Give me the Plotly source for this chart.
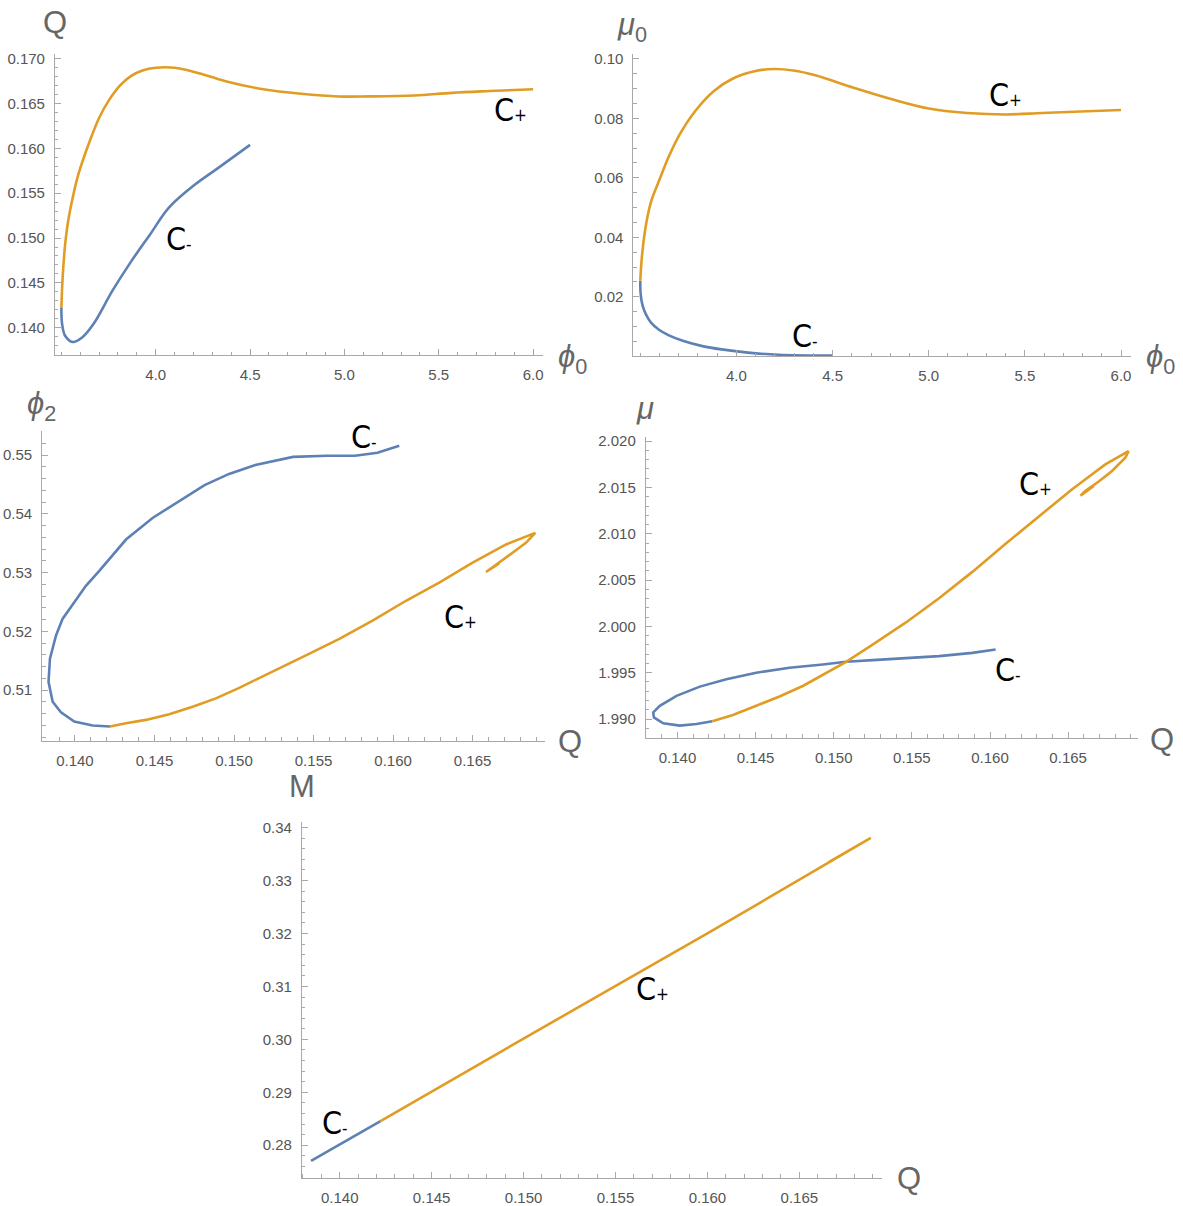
import plotly.graph_objects as go

BLUE = "#5E81B5"
ORANGE = "#E19C24"
AXC = "#a8a8a8"
TXC = "#555555"

# ---------------- Panel 1: Q vs phi0 ----------------
p1_plus_phi0 = [3.50, 3.504, 3.51, 3.52, 3.536, 3.56, 3.59, 3.65, 3.70, 3.75, 3.81, 3.87, 3.93, 4.00,
                4.10, 4.21, 4.37, 4.57, 4.77, 4.97, 5.13, 5.37, 5.57, 5.77, 6.00]
p1_plus_Q = [0.1422, 0.14446, 0.14669, 0.14929, 0.15190, 0.15450, 0.1571, 0.1608, 0.1634, 0.1653, 0.1670,
             0.1681, 0.1687, 0.1690, 0.1690, 0.1685, 0.1675, 0.1666, 0.1661, 0.1658, 0.1658, 0.1659,
             0.1662, 0.1664, 0.1666]
p1_minus_phi0 = [3.50, 3.504, 3.52, 3.56, 3.61, 3.67, 3.77, 3.87, 3.97, 4.07, 4.21, 4.33, 4.50]
p1_minus_Q = [0.1422, 0.1404, 0.1391, 0.1384, 0.1389, 0.1404, 0.1441, 0.1474, 0.1504, 0.1534, 0.1560,
              0.1578, 0.1604]

# ---------------- Panel 2: mu0 vs phi0 ----------------
p2_plus_phi0 = [3.50, 3.508, 3.53, 3.557, 3.597, 3.646, 3.705, 3.785, 3.883, 3.982, 4.10, 4.197, 4.296,
                4.41, 4.61, 4.81, 5.00, 5.20, 5.40, 5.59, 5.79, 6.00]
p2_plus_mu0 = [0.0254, 0.0332, 0.0444, 0.0522, 0.0589, 0.0668, 0.0746, 0.0824, 0.0892, 0.0934, 0.0959,
               0.0966, 0.0961, 0.0945, 0.0903, 0.0864, 0.0833, 0.0818, 0.0813, 0.0818, 0.0823, 0.0828]
p2_minus_phi0 = [3.50, 3.502, 3.512, 3.53, 3.557, 3.597, 3.646, 3.725, 3.823, 3.922, 4.06, 4.22, 4.50]
p2_minus_mu0 = [0.0254, 0.0209, 0.0170, 0.0140, 0.0112, 0.0089, 0.0071, 0.0051, 0.0034, 0.0023, 0.0012,
                0.0005, 0.0002]

# ---------------- Panel 3: phi2 vs Q ----------------
p3_plus_Q = [0.14220, 0.14321, 0.14446, 0.14593, 0.14740, 0.14886, 0.15033, 0.15243, 0.15452, 0.15662,
             0.15871, 0.16081, 0.16290, 0.16500, 0.16710, 0.16894, 0.16835, 0.16751, 0.16667, 0.16584,
             0.16626, 0.16667]
p3_plus_phi2 = [0.50380, 0.50437, 0.50493, 0.50589, 0.50718, 0.50859, 0.51039, 0.51310, 0.51592, 0.51873,
                0.52183, 0.52521, 0.52831, 0.53169, 0.53479, 0.53676, 0.53507, 0.53338, 0.53169, 0.53011,
                0.53085, 0.53158]
p3_minus_Q = [0.14220, 0.14111, 0.13996, 0.13912, 0.13860, 0.13834, 0.13843, 0.13881, 0.13922, 0.13996,
              0.14069, 0.14153, 0.14321, 0.14488, 0.14635, 0.14815, 0.14969, 0.15134, 0.15371, 0.15583,
              0.15760, 0.15902, 0.16039]
p3_minus_phi2 = [0.50380, 0.50397, 0.50465, 0.50623, 0.50803, 0.51141, 0.51535, 0.51930, 0.52211, 0.52493,
                 0.52775, 0.53028, 0.53563, 0.53930, 0.54183, 0.5449, 0.5468, 0.5483, 0.5497, 0.5499,
                 0.5499, 0.5504, 0.5516]

# ---------------- Panel 4: mu vs Q ----------------
p4_plus_Q = [0.14223, 0.14355, 0.14504, 0.14653, 0.14802, 0.14951, 0.15079, 0.15249, 0.15462, 0.15674,
             0.15887, 0.16100, 0.16313, 0.16526, 0.16738, 0.16887, 0.16866, 0.16781, 0.16696, 0.16611,
             0.16579, 0.16621, 0.16664]
p4_plus_mu = [1.98975, 1.99043, 1.99143, 1.99243, 1.99357, 1.99500, 1.99618, 1.99804, 2.00043, 2.00304,
              2.00589, 2.00893, 2.01186, 2.01482, 2.01750, 2.01893, 2.01821, 2.01679, 2.01564, 2.01464,
              2.01411, 2.01464, 2.01518]
p4_minus_Q = [0.14223, 0.14121, 0.14015, 0.13909, 0.13849, 0.13845, 0.13887, 0.13994, 0.14143, 0.14313,
              0.14504, 0.14717, 0.14930, 0.15079, 0.15249, 0.15462, 0.15674, 0.15887, 0.16036]
p4_minus_mu = [1.98975, 1.98946, 1.98929, 1.98954, 1.99018, 1.99071, 1.99143, 1.99250, 1.99350, 1.99429,
               1.99500, 1.99554, 1.99589, 1.99618, 1.99636, 1.99657, 1.99679, 1.99714, 1.99750]

# ---------------- Panel 5: M vs Q ----------------
p5_plus_Q = [0.14222, 0.150, 0.160, 0.16889, 0.1658, 0.1666]
p5_plus_M = [0.28457, 0.30015, 0.3200, 0.33805, 0.3319, 0.3335]
p5_minus_Q = [0.13844, 0.14222]
p5_minus_M = [0.27706, 0.28457]

fig = go.Figure()

def add_pair(xm, ym, xp, yp, ax, shape="linear"):
    xa = "x" if ax == 1 else f"x{ax}"
    ya = "y" if ax == 1 else f"y{ax}"
    fig.add_trace(go.Scatter(x=xm, y=ym, mode="lines", xaxis=xa, yaxis=ya,
                             line=dict(color=BLUE, width=2.6, shape=shape), showlegend=False,
                             hoverinfo="skip"))
    fig.add_trace(go.Scatter(x=xp, y=yp, mode="lines", xaxis=xa, yaxis=ya,
                             line=dict(color=ORANGE, width=2.6, shape=shape), showlegend=False,
                             hoverinfo="skip"))

add_pair(p1_minus_phi0, p1_minus_Q, p1_plus_phi0, p1_plus_Q, 1, "spline")
add_pair(p2_minus_phi0, p2_minus_mu0, p2_plus_phi0, p2_plus_mu0, 2, "spline")
add_pair(p3_minus_Q, p3_minus_phi2, p3_plus_Q, p3_plus_phi2, 3)
add_pair(p4_minus_Q, p4_minus_mu, p4_plus_Q, p4_plus_mu, 4)
add_pair(p5_minus_Q, p5_minus_M, p5_plus_Q, p5_plus_M, 5)

W, H = 1183, 1206

def px_dom_x(a, b):
    return [a / W, b / W]

def px_dom_y(top, bottom):
    return [1 - bottom / H, 1 - top / H]

tickfont = dict(family="Liberation Sans, Arial, sans-serif", size=15, color=TXC)

def axis(dom, rng, vals, fmt, minor_dt, anchor):
    return dict(domain=dom, range=rng, anchor=anchor, showline=True, linecolor=AXC, linewidth=1,
                showgrid=False, zeroline=False, ticks="inside", ticklen=6, tickcolor=AXC,
                tickmode="array", tickvals=vals, ticktext=[fmt.format(v) for v in vals],
                tickfont=tickfont, ticklabelstandoff=6,
                minor=dict(ticks="inside", ticklen=3.5, tickcolor=AXC, dtick=minor_dt, tick0=0,
                           tickmode="linear", showgrid=False))

layout = dict(width=W, height=H, plot_bgcolor="white", paper_bgcolor="white",
              margin=dict(l=0, r=0, t=0, b=0))

xt_phi = [4.0, 4.5, 5.0, 5.5, 6.0]
xt_Q = [0.140, 0.145, 0.150, 0.155, 0.160, 0.165]

layout["xaxis"] = axis(px_dom_x(55, 543), [3.466, 6.05], xt_phi, "{:.1f}", 0.1, "y")
layout["yaxis"] = axis(px_dom_y(49.5, 351.5), [0.13695, 0.1705],
                       [0.140, 0.145, 0.150, 0.155, 0.160, 0.165, 0.170], "{:.3f}", 0.001, "x")

layout["xaxis2"] = axis(px_dom_x(634, 1131.6), [3.4645, 6.05], xt_phi, "{:.1f}", 0.1, "y2")
layout["yaxis2"] = axis(px_dom_y(49.6, 352.7), [0.0, 0.1015],
                        [0.02, 0.04, 0.06, 0.08, 0.10], "{:.2f}", 0.005, "x2")

layout["xaxis3"] = axis(px_dom_x(42.2, 545.3), [0.13794, 0.16954], xt_Q, "{:.3f}", 0.001, "y3")
layout["yaxis3"] = axis(px_dom_y(427.8, 738.7), [0.5014, 0.5541],
                        [0.51, 0.52, 0.53, 0.54, 0.55], "{:.2f}", 0.002, "x3")

layout["xaxis4"] = axis(px_dom_x(646.3, 1139.1), [0.13797, 0.16948], xt_Q, "{:.3f}", 0.001, "y4")
layout["yaxis4"] = axis(px_dom_y(434.3, 735.6), [1.988, 2.0204],
                        [1.990, 1.995, 2.000, 2.005, 2.010, 2.015, 2.020], "{:.3f}", 0.001, "x4")

layout["xaxis5"] = axis(px_dom_x(302.1, 882.8), [0.13794, 0.1695], xt_Q, "{:.3f}", 0.001, "y5")
layout["yaxis5"] = axis(px_dom_y(820.2, 1177.4), [0.2739, 0.3411],
                        [0.28, 0.29, 0.30, 0.31, 0.32, 0.33, 0.34], "{:.2f}", 0.002, "x5")

fig.update_layout(**layout)

# axis titles
title_font = dict(family="Liberation Sans, Arial, sans-serif", size=31, color="#666666")
axis_titles = [
    ("Q", 55, 18), ("<i>ϕ</i><sub>0</sub>", 573, 355),
    ("<i>μ</i><sub>0</sub>", 633, 22), ("<i>ϕ</i><sub>0</sub>", 1161, 355),
    ("<i>ϕ</i><sub>2</sub>", 42, 403), ("Q", 570, 740),
    ("<i>μ</i>", 646, 405), ("Q", 1163, 738),
    ("M", 302, 785), ("Q", 910, 1178),
]
for txt, px, py in axis_titles:
    fig.add_annotation(text=txt, x=px / W, y=1 - py / H, xref="paper", yref="paper",
                       showarrow=False, font=title_font, xanchor="center", yanchor="middle")

# curve labels
lab_font = dict(family="Liberation Sans Narrow, DejaVu Sans Condensed, Arial, sans-serif",
                size=32, color="black")
SUBP = "<span style='font-size:17px'>+</span>"
SUBM = "<span style='font-size:17px'>-</span>"
curve_labels = [
    ("C" + SUBP, 5.88, 0.16424, 1), ("C" + SUBM, 4.126, 0.14985, 1),
    ("C" + SUBP, 5.40, 0.0880, 2), ("C" + SUBM, 4.356, 0.0069, 2),
    ("C" + SUBM, 0.15819, 0.5530, 3), ("C" + SUBP, 0.16422, 0.52247, 3),
    ("C" + SUBP, 0.16294, 2.01536, 4), ("C" + SUBM, 0.16113, 1.99532, 4),
    ("C" + SUBM, 0.13977, 0.28420, 5), ("C" + SUBP, 0.15704, 0.30943, 5),
]
for txt, x, y, ax in curve_labels:
    fig.add_annotation(text=txt, x=x, y=y, xref="x" if ax == 1 else f"x{ax}",
                       yref="y" if ax == 1 else f"y{ax}", showarrow=False, font=lab_font,
                       xanchor="center", yanchor="middle")

fig.write_html("out.html", config={"displayModeBar": False},
               post_script="document.body.style.margin='0px';")
